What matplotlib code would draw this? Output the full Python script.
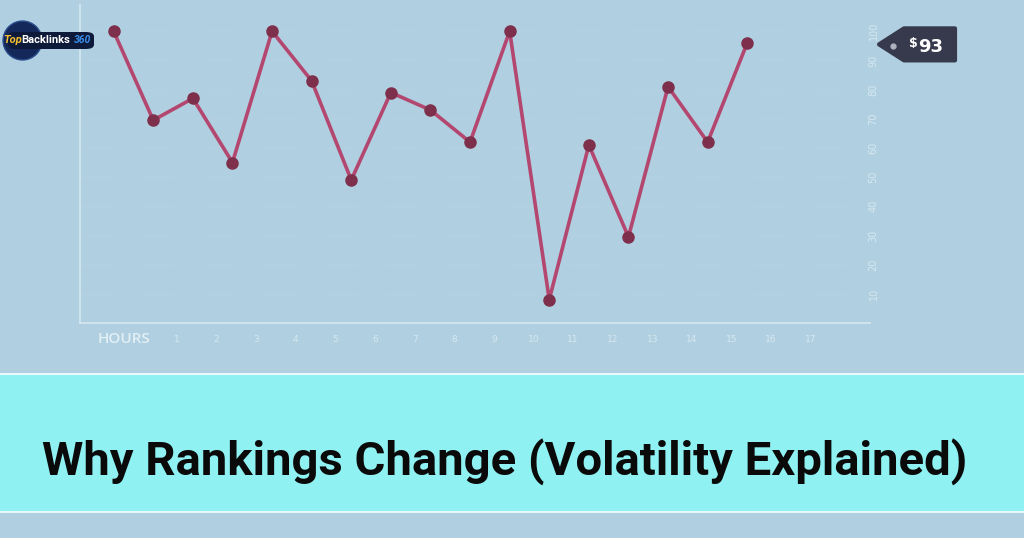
import matplotlib
matplotlib.use("Agg")
import matplotlib.pyplot as plt
from matplotlib.patches import Polygon, FancyBboxPatch, Rectangle
import matplotlib.transforms as mtransforms

# ---- data ----
hours = [-0.6, 0.4, 1.4, 2.4, 3.4, 4.4, 5.4, 6.4, 7.4, 8.4, 9.4, 10.4, 11.4, 12.4, 13.4, 14.4, 15.4]
ranking = [100, 69.5, 77, 55, 100, 83, 49, 79, 73, 62, 100, 8, 61, 29.5, 81, 62, 96]
x_ticks = list(range(1, 18))
y_ticks = [10, 20, 30, 40, 50, 60, 70, 80, 90, 100]
title = "Why Rankings Change (Volatility Explained)"
tag_label = "93"

BG = "#b0cfe0"
BAND = "#8ff1f2"
LINE = "#b4476f"
MARK = "#7e2f4b"
AXC = "#d6e8f1"

W, H = 1024, 538
fig = plt.figure(figsize=(W / 100, H / 100), dpi=100)
fig.patch.set_facecolor(BG)
px = lambda v: v / W
py = lambda v: (H - v) / H

# bottom title band
fig.patches.append(Rectangle((0, py(512)), 1, (512 - 374) / H, transform=fig.transFigure,
                             facecolor=BAND, edgecolor="none", zorder=0))
for yy in (374, 512):
    fig.add_artist(plt.Line2D([0, 1], [py(yy)] * 2, transform=fig.transFigure,
                              color="#f2fbfc", lw=1.3))
fig.text(px(505), py(462), title, ha="center", va="center", fontsize=34,
         fontweight="bold", color="#0a0a0a", family=["Roboto", "DejaVu Sans"])

# main axes
ax = fig.add_axes([80 / W, py(323), 790 / W, 318 / H])
ax.set_facecolor("none")
ax.set_xlim(-1.45, 18.5)
ax.set_ylim(0, 109)
for s in ("top", "right"):
    ax.spines[s].set_visible(False)
for s in ("left", "bottom"):
    ax.spines[s].set_color(AXC)
    ax.spines[s].set_linewidth(1.3)
    ax.spines[s].set_alpha(0.9)

for yv in y_ticks:
    ax.axhline(yv, color="white", alpha=0.035, lw=2, ls=(0, (12, 10)), zorder=1)

ax.plot(hours, ranking, color=LINE, lw=2.6, zorder=3, solid_joinstyle="round")
ax.plot(hours, ranking, ls="none", marker="o", ms=8, color=MARK, zorder=4)

ax.set_xticks(x_ticks)
ax.set_xticklabels([str(v) for v in x_ticks], fontsize=6.5, color=AXC)
ax.tick_params(axis="x", length=0, pad=9)
ax.yaxis.tick_right()
ax.set_yticks(y_ticks)
ax.set_yticklabels([str(v) for v in y_ticks], fontsize=7, color=AXC, rotation=90, va="center")
ax.tick_params(axis="y", length=0, pad=-1)

ax.text(98 / W, py(339), "HOURS", transform=fig.transFigure, fontsize=11,
        fontweight="semibold", color="#e2eff5", va="center", ha="left",
        family=["Open Sans", "DejaVu Sans"])

# price tag anchored at last value
trans = mtransforms.blended_transform_factory(fig.transFigure, ax.transData)
tagy = ranking[-1] - 0.5
dy = 16 / 318 * 109
tag = Polygon([(px(879), tagy), (px(904), tagy + dy), (px(955), tagy + dy),
               (px(955), tagy - dy), (px(904), tagy - dy)], closed=True,
              transform=trans, facecolor="#363a4c", edgecolor="#363a4c",
              joinstyle="round", lw=3, clip_on=False, zorder=5)
fig.add_artist(tag)
fig.add_artist(plt.Line2D([px(893)], [py(46)], transform=fig.transFigure, marker="o",
                          ms=3.5, color="#aeb2bd", ls="none", zorder=6))
fig.text(px(918), py(43), "$", ha="right", va="center", fontsize=9,
         fontweight="bold", color="white", zorder=7)
fig.text(px(931), py(46.5), tag_label, ha="center", va="center", fontsize=13,
         fontweight="bold", color="white", zorder=7)

# logo
fig.add_artist(plt.Line2D([px(22)], [py(40)], transform=fig.transFigure, marker="o",
                          ms=28, color="#14285a", mec="#2a4c8c", ls="none", zorder=6))
fig.add_artist(FancyBboxPatch((px(8), py(49)), px(86), 17 / H,
                              boxstyle="round,pad=0,rounding_size=0.008",
                              transform=fig.transFigure, facecolor="#0d1a3a",
                              edgecolor="none", zorder=7))
fig.text(px(3), py(40), "Top", fontsize=8, fontweight="bold", fontstyle="italic",
         color="#f5c030", va="center", ha="left", zorder=8, family=["Roboto", "DejaVu Sans"])
fig.text(px(21), py(40), "Backlinks", fontsize=8, fontweight="bold",
         color="white", va="center", ha="left", zorder=8, family=["Roboto", "DejaVu Sans"])
fig.text(px(74), py(40), "360", fontsize=7.5, fontweight="bold", fontstyle="italic",
         color="#3b8ee8", va="center", ha="left", zorder=8, family=["Roboto", "DejaVu Sans"])

fig.savefig("out.png", dpi=100, facecolor=BG)
